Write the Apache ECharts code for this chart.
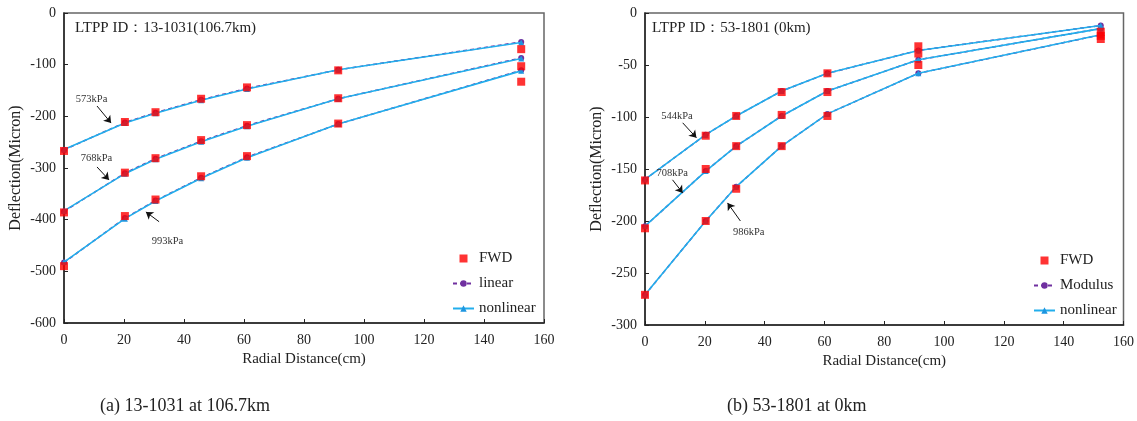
<!DOCTYPE html>
<html>
<head>
<meta charset="utf-8">
<script src="https://cdn.jsdelivr.net/npm/echarts@6/dist/echarts.min.js"></script>
<style>
  html, body { margin: 0; padding: 0; background: #fff; }
  #chart { width: 1137px; height: 421px; }
</style>
</head>
<body>
<div id="chart"></div>
<script>
// FWD sensor offsets (cm)
const offsets = [0, 20.3, 30.5, 45.7, 61, 91.4, 152.4];

// (a) 13-1031 at 106.7km — deflections in microns
const fwdA573 = [-267, -211, -192, -166, -144, -111, -70];
const fwdA768 = [-386, -309, -281, -246, -217, -165, -103];
const fwdA993 = [-490, -393, -361, -316, -277, -214, -133];
const linA573 = [-265, -212, -193, -168, -146, -110, -56];
const linA768 = [-384, -310, -282, -248, -218, -166, -87];
const linA993 = [-483, -397, -363, -319, -279, -215, -111];
const nonA573 = [-264, -213, -194, -169, -147, -110, -57];
const nonA768 = [-383, -311, -283, -249, -219, -166, -88];
const nonA993 = [-482, -398, -364, -320, -280, -215, -112];

// (b) 53-1801 at 0km — deflections in microns
const fwdB544 = [-161, -118, -99, -76, -58, -32, -18];
const fwdB708 = [-207, -150, -128, -98, -76, -39, -22];
const fwdB986 = [-271, -200, -169, -128, -99, -50, -25];
const modB544 = [-160, -117, -99, -75, -58, -36, -12];
const modB708 = [-205, -152, -128, -99, -75, -45, -15];
const modB986 = [-271, -200, -167, -128, -97, -58, -21];
const nonB544 = [-160, -117, -99, -75, -58, -36, -12];
const nonB708 = [-205, -152, -128, -99, -75, -45, -15];
const nonB986 = [-271, -200, -167, -128, -97, -58, -21];

// Load-level callouts: label position and arrow (tail -> head), in data units
const notesA = [
  { text: '573kPa', at: [9.2, -166], from: [11, -180], to: [15.7, -213] },
  { text: '768kPa', at: [10.8, -282], from: [11, -298], to: [15, -323] },
  { text: '993kPa', at: [34.5, -441], from: [31.7, -404], to: [27.3, -385] }
];
const notesB = [
  { text: '544kPa', at: [10.7, -99], from: [12.6, -105.6], to: [17.2, -120] },
  { text: '708kPa', at: [9.1, -154], from: [9.2, -160.4], to: [12.6, -173] },
  { text: '986kPa', at: [34.7, -210.5], from: [31.9, -200], to: [27.6, -182.6] }
];

const serif = '"Liberation Serif", "Times New Roman", serif';
const BLUE = '#22AEEC';
const BLUE_MK = '#1E96E0';
const PURPLE = '#7030A0';
const RED = '#FF0000';

const pair = (ys) => offsets.map((x, i) => [x, ys[i]]);

function fwd(ys, gi, notes) {
  const s = {
    name: 'FWD', type: 'scatter', xAxisIndex: gi, yAxisIndex: gi,
    symbol: 'rect', symbolSize: 8, itemStyle: { color: RED }, z: 5,
    data: pair(ys)
  };
  if (notes) {
    s.markPoint = {
      symbol: 'circle', symbolSize: 1, itemStyle: { color: 'rgba(0,0,0,0)' },
      label: { show: true, position: 'inside', formatter: '{b}', fontFamily: serif, fontSize: 10.5, color: '#333' },
      data: notes.map(n => ({ name: n.text, coord: n.at }))
    };
    s.markLine = {
      silent: true, symbol: ['none', 'arrow'], symbolSize: 7,
      lineStyle: { color: '#111', width: 1, type: 'solid' },
      itemStyle: { color: '#111' },
      label: { show: false }, emphasis: { disabled: true },
      data: notes.map(n => [{ coord: n.from }, { coord: n.to }])
    };
  }
  return s;
}
function modelLine(name, ys, gi) {
  return {
    name, type: 'line', xAxisIndex: gi, yAxisIndex: gi,
    symbol: 'circle', symbolSize: 6, showSymbol: true,
    lineStyle: { color: PURPLE, width: 1.5, type: [4, 3] },
    itemStyle: { color: PURPLE }, z: 2,
    data: pair(ys)
  };
}
function nonlinLine(ys, gi) {
  return {
    name: 'nonlinear', type: 'line', xAxisIndex: gi, yAxisIndex: gi,
    symbol: 'triangle', symbolSize: 6, showSymbol: true,
    lineStyle: { color: BLUE, width: 1.6 },
    itemStyle: { color: BLUE_MK }, z: 3,
    data: pair(ys)
  };
}

const axisText = { fontFamily: serif, fontSize: 14, color: '#222' };
function xAx(gi) {
  return {
    type: 'value', gridIndex: gi, min: 0, max: 160, interval: 20,
    name: 'Radial Distance(cm)', nameLocation: 'middle', nameGap: 27,
    nameTextStyle: { fontFamily: serif, fontSize: 15, color: '#222' },
    axisLine: { show: true, onZero: false, lineStyle: { color: '#222', width: 1.5 } },
    axisTick: { show: true, inside: true, length: 4, lineStyle: { color: '#222' } },
    axisLabel: Object.assign({ margin: 10 }, axisText),
    splitLine: { show: false }
  };
}
function yAx(gi, min, interval) {
  return {
    type: 'value', gridIndex: gi, min, max: 0, interval,
    name: 'Deflection(Micron)', nameLocation: 'middle', nameGap: 40,
    nameTextStyle: { fontFamily: serif, fontSize: 16, color: '#222' },
    axisLine: { show: true, onZero: false, lineStyle: { color: '#222', width: 1.5 } },
    axisTick: { show: true, inside: true, length: 4, lineStyle: { color: '#222' } },
    axisLabel: Object.assign({ margin: 8 }, axisText),
    splitLine: { show: false }
  };
}
function legendAt(left, top, modelName) {
  return {
    orient: 'vertical', left, top, itemWidth: 21, itemHeight: 8, itemGap: 10,
    symbolKeepAspect: true,
    textStyle: { fontFamily: serif, fontSize: 15, color: '#222' },
    data: [{ name: 'FWD', icon: 'path://M0,0h10v10h-10z' }, modelName, 'nonlinear'],
    selectedMode: false
  };
}

const option = {
  animation: false,
  textStyle: { fontFamily: serif },
  title: [
    { text: 'LTPP ID：13-1031(106.7km)', left: 70, top: 16, textStyle: { fontFamily: serif, fontSize: 15, fontWeight: 'normal', color: '#222' } },
    { text: 'LTPP ID：53-1801 (0km)', left: 647, top: 16, textStyle: { fontFamily: serif, fontSize: 15, fontWeight: 'normal', color: '#222' } },
    { text: '(a) 13-1031 at 106.7km', left: 95, top: 392, textStyle: { fontFamily: serif, fontSize: 18, fontWeight: 'normal', color: '#222' } },
    { text: '(b) 53-1801 at 0km', left: 722, top: 392, textStyle: { fontFamily: serif, fontSize: 18, fontWeight: 'normal', color: '#222' } }
  ],
  legend: [legendAt(447, 246, 'linear'), legendAt(1028, 248, 'Modulus')],
  grid: [
    { left: 64, top: 13, width: 480, height: 310, show: true, borderColor: '#666', borderWidth: 1.5, backgroundColor: '#fff' },
    { left: 645, top: 13, width: 480, height: 312, show: true, borderColor: '#666', borderWidth: 1.5, backgroundColor: '#fff' }
  ],
  xAxis: [xAx(0), xAx(1)],
  yAxis: [yAx(0, -600, 100), yAx(1, -300, 50)],
  series: [
    modelLine('linear', linA573, 0), modelLine('linear', linA768, 0), modelLine('linear', linA993, 0),
    nonlinLine(nonA573, 0), nonlinLine(nonA768, 0), nonlinLine(nonA993, 0),
    fwd(fwdA573, 0, notesA), fwd(fwdA768, 0), fwd(fwdA993, 0),
    modelLine('Modulus', modB544, 1), modelLine('Modulus', modB708, 1), modelLine('Modulus', modB986, 1),
    nonlinLine(nonB544, 1), nonlinLine(nonB708, 1), nonlinLine(nonB986, 1),
    fwd(fwdB544, 1, notesB), fwd(fwdB708, 1), fwd(fwdB986, 1)
  ]
};

echarts.init(document.getElementById('chart'), null, { renderer: 'canvas' }).setOption(option);
</script>
</body>
</html>
